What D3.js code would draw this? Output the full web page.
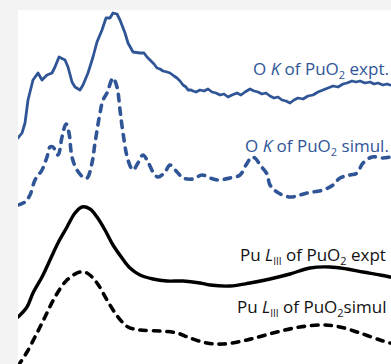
<!DOCTYPE html>
<html>
<head>
<meta charset="utf-8">
<script src="https://cdn.jsdelivr.net/npm/d3@7"></script>
<style>
  html, body { margin: 0; padding: 0; background: #f3f3f3; }
  svg { display: block; }
  text { font-family: "Open Sans", sans-serif; }
</style>
</head>
<body>
<div id="chart"></div>
<script>
// relative energy (arb. units) and offset intensity (arb. units)
const okExptE = [0, 4, 7, 10, 15, 20, 24, 29, 34, 37, 41, 47, 50, 54, 57, 62, 65, 70, 75, 79, 84, 88, 92, 95, 99, 102, 107, 110, 115,
  122, 126, 129, 132, 136, 139, 142, 145, 149, 152, 156, 159, 162, 165, 168, 170, 173, 175, 178,
  182, 186, 190, 194, 198, 202, 206, 210, 214, 219, 223, 227, 232, 236, 240, 244, 248, 252, 256, 260, 264, 268, 272, 276, 280,
  285, 290, 295, 300, 305, 310, 315, 320, 325, 329, 334, 338, 342, 347, 352, 356, 360, 365, 369, 372];
const okExptI = [226, 231, 241, 264, 284, 291, 284, 289, 291, 297, 307, 304, 297, 282, 277, 274, 279, 291, 307, 322, 334, 346, 346, 351, 350, 344, 331, 321, 312,
  311, 311, 307, 304, 300, 296, 295, 293, 292, 291, 288, 286, 283, 279, 277, 274, 274, 273, 272,
  274, 273, 275, 272, 271, 269, 270, 267, 269, 271, 269, 272, 275, 273, 272, 270, 271, 268, 266, 267, 264, 263, 261, 264, 266,
  265, 268, 269, 272, 274, 276, 278, 277, 280, 281, 283, 282, 283, 281, 282, 280, 281, 279, 280, 279];

const okSimE = [0, 7, 12, 17, 24, 29, 32, 35, 40, 44, 48, 51, 54, 59, 65, 69, 74, 77, 82, 85, 89, 95, 99, 102, 105, 110, 115, 120,
  125, 130, 135, 140, 147, 152, 159, 165, 175, 184, 192, 200, 212, 222, 228, 234, 238, 242, 249, 252, 259, 272, 289, 305,
  315, 322, 332, 339, 345, 354, 365, 372];
const okSimI = [159, 162, 169, 184, 194, 207, 217, 217, 209, 227, 240, 231, 207, 194, 187, 186, 201, 221, 251, 264, 271, 286, 277, 254, 231, 204, 194, 201,
  209, 202, 192, 187, 192, 199, 192, 186, 185, 189, 186, 184, 186, 189, 199, 207, 205, 199, 190, 179, 172, 167, 171, 174,
  179, 186, 189, 191, 201, 207, 206, 207];

const puExptE = [0, 9, 15, 24, 32, 40, 49, 57, 64, 72, 79, 87, 95, 104, 112, 122, 135, 149, 165, 182, 192, 212, 232, 252, 272, 292, 312, 329, 345, 362, 372];
const puExptI = [47, 57, 71, 87, 104, 121, 137, 151, 157, 155, 147, 134, 119, 106, 96, 89, 85, 83, 83, 81, 79, 78, 81, 85, 90, 96, 97, 95, 92, 89, 87];

const puSimE = [0, 2, 9, 19, 27, 37, 49, 62, 69, 79, 89, 100, 110, 122, 142, 159, 172, 189, 205, 229, 255, 282, 305, 322, 342, 362, 372];
const puSimI = [-2, 1, 12, 31, 47, 67, 84, 92, 91, 81, 64, 47, 37, 34, 33, 31, 26, 21, 20, 24, 31, 37, 39, 37, 31, 24, 21];

const labels = ['O K of PuO2 expt.', 'O K of PuO2 simul.', 'Pu LIII of PuO2 expt', 'Pu LIII of PuO2simul'];

const width = 391;
const height = 364;
const plot = { left: 18, top: 10 };
const blue = '#2f5597';

const svg = d3.select('#chart')
  .append('svg')
  .attr('width', width)
  .attr('height', height);

svg.append('rect')
  .attr('x', plot.left)
  .attr('y', plot.top)
  .attr('width', width - plot.left)
  .attr('height', height - plot.top)
  .attr('fill', '#ffffff');

const x = d3.scaleLinear().domain([0, 373]).range([plot.left, width]);
const y = d3.scaleLinear().domain([0, 354]).range([height, plot.top]);

svg.append('clipPath').attr('id', 'clip')
  .append('rect')
  .attr('x', plot.left).attr('y', plot.top)
  .attr('width', width - plot.left).attr('height', height - plot.top);

const g = svg.append('g').attr('clip-path', 'url(#clip)');

function drawSeries(es, is, color, dashed, smooth) {
  const pts = es.map((e, i) => [e, is[i]]);
  const line = d3.line()
    .x(d => x(d[0]))
    .y(d => y(d[1]))
    .curve(smooth ? d3.curveCatmullRom.alpha(0.5) : d3.curveLinear);
  g.append('path')
    .datum(pts)
    .attr('d', line)
    .attr('fill', 'none')
    .attr('stroke', color)
    .attr('stroke-width', dashed ? 3.6 : (color === blue ? 2.8 : 3.4))
    .attr('stroke-linejoin', 'round')
    .attr('stroke-linecap', 'round')
    .attr('stroke-dasharray', dashed ? '6.5,7' : null);
}

drawSeries(okExptE, okExptI, blue, false, false);
drawSeries(okSimE, okSimI, blue, true, true);
drawSeries(puExptE, puExptI, '#000000', false, true);
drawSeries(puSimE, puSimI, '#000000', true, true);

// labels
function label(txt, px, py, color) {
  const t = svg.append('text')
    .attr('x', px)
    .attr('y', py)
    .attr('fill', color)
    .attr('font-size', '17px');
  // split into pieces: italic K / L, subscripts
  const m = txt.match(/^(O|Pu) (K|LIII) of PuO2 ?(.*)$/);
  t.append('tspan').text(m[1] + ' ');
  t.append('tspan').attr('font-style', 'italic').text(m[2] === 'K' ? 'K' : 'L');
  if (m[2] === 'LIII') {
    t.append('tspan').attr('font-size', '10px').attr('dy', 4).text('III');
    t.append('tspan').attr('dy', -4).text(' of PuO');
  } else {
    t.append('tspan').text(' of PuO');
  }
  t.append('tspan').attr('font-size', '11px').attr('dy', 4).text('2');
  t.append('tspan').attr('dy', -4).text((txt.includes('O2 ') ? ' ' : '') + m[3]);
}

label(labels[0], 253, 75, blue);
label(labels[1], 245, 152, blue);
label(labels[2], 240, 261, '#111111');
label(labels[3], 237, 313, '#111111');
</script>
</body>
</html>
